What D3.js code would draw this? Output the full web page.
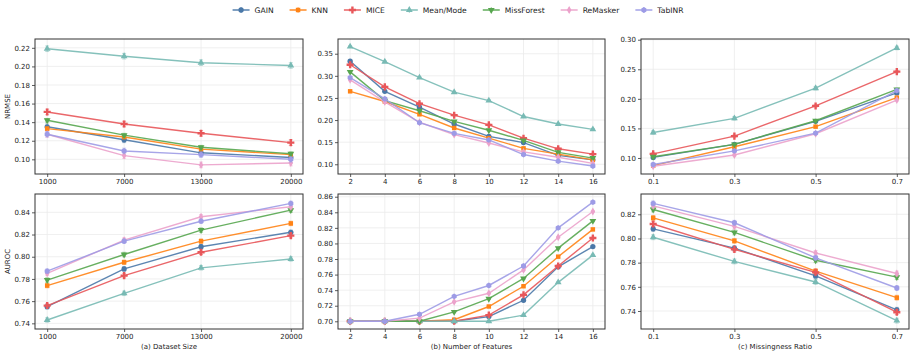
<!DOCTYPE html>
<html>
<head>
<meta charset="utf-8">
<script src="https://cdn.jsdelivr.net/npm/d3@7"></script>
<style>
  body { margin: 0; background: #fff; }
  svg { font-family: "DejaVu Sans", sans-serif; }
</style>
</head>
<body>
<div id="chart"></div>
<script>
const W = 914, H = 356;

// methods, in legend / draw order
const methods = ['GAIN', 'KNN', 'MICE', 'Mean/Mode', 'MissForest', 'ReMasker', 'TabINR'];
const colors = ['#4a78a8', '#ff8316', '#e8575a', '#78bab4', '#57a64f', '#eba2cb', '#9d9be6'];
const shapes = ['circle', 'square', 'plus', 'triangle', 'triangleDown', 'diamond', 'hexagon'];

// x values
const sizeTicks = [1000, 7000, 13000, 20000];
const featTicks = [2, 4, 6, 8, 10, 12, 14, 16];
const ratioTicks = [0.1, 0.3, 0.5, 0.7];

// (a) dataset size, rows follow methods order
const sizeNrmse = [
  [0.135, 0.121, 0.107, 0.102],
  [0.133, 0.124, 0.111, 0.105],
  [0.151, 0.138, 0.128, 0.118],
  [0.219, 0.211, 0.204, 0.201],
  [0.142, 0.126, 0.113, 0.106],
  [0.127, 0.104, 0.094, 0.096],
  [0.127, 0.109, 0.105, 0.100]
];
const sizeNrmseErr = [0.003, 0.002, 0.003, 0.003, 0.002, 0.003, 0.003];
const sizeAuroc = [
  [0.755, 0.789, 0.809, 0.822],
  [0.774, 0.795, 0.814, 0.830],
  [0.756, 0.783, 0.804, 0.819],
  [0.743, 0.767, 0.790, 0.798],
  [0.779, 0.802, 0.824, 0.842],
  [0.785, 0.815, 0.836, 0.845],
  [0.787, 0.814, 0.832, 0.848]
];
const sizeAurocErr = [0.002, 0.002, 0.002, 0.002, 0.002, 0.002, 0.002];

// (b) number of features
const featNrmse = [
  [0.333, 0.265, 0.229, 0.191, 0.163, 0.149, 0.120, 0.110],
  [0.265, 0.242, 0.213, 0.182, 0.159, 0.136, 0.123, 0.110],
  [0.325, 0.275, 0.237, 0.211, 0.189, 0.159, 0.135, 0.123],
  [0.366, 0.332, 0.296, 0.263, 0.244, 0.208, 0.191, 0.179],
  [0.309, 0.244, 0.221, 0.197, 0.177, 0.154, 0.127, 0.114],
  [0.291, 0.241, 0.195, 0.167, 0.148, 0.128, 0.116, 0.102],
  [0.296, 0.248, 0.194, 0.170, 0.155, 0.122, 0.107, 0.096]
];
const featNrmseErr = [0.002, 0.002, 0.002, 0.002, 0.002, 0.002, 0.002];
const featAuroc = [
  [0.700, 0.700, 0.700, 0.700, 0.706, 0.727, 0.770, 0.796],
  [0.700, 0.700, 0.700, 0.702, 0.719, 0.745, 0.783, 0.818],
  [0.700, 0.700, 0.700, 0.700, 0.708, 0.734, 0.771, 0.807],
  [0.700, 0.700, 0.700, 0.700, 0.700, 0.708, 0.750, 0.785],
  [0.700, 0.700, 0.700, 0.712, 0.729, 0.755, 0.794, 0.829],
  [0.700, 0.700, 0.704, 0.725, 0.736, 0.766, 0.808, 0.841],
  [0.700, 0.700, 0.709, 0.732, 0.746, 0.771, 0.820, 0.853]
];
const featAurocErr = [0.001, 0.001, 0.001, 0.001, 0.001, 0.001, 0.001];

// (c) missingness ratio
const ratioNrmse = [
  [0.101, 0.123, 0.162, 0.210],
  [0.087, 0.119, 0.153, 0.202],
  [0.107, 0.137, 0.188, 0.246],
  [0.143, 0.167, 0.218, 0.286],
  [0.102, 0.123, 0.163, 0.216],
  [0.086, 0.105, 0.141, 0.198],
  [0.089, 0.112, 0.142, 0.214]
];
const ratioNrmseErr = [0.002, 0.002, 0.002, 0.003, 0.002, 0.002, 0.002];
const ratioAuroc = [
  [0.808, 0.792, 0.769, 0.741],
  [0.817, 0.798, 0.773, 0.751],
  [0.812, 0.791, 0.772, 0.739],
  [0.801, 0.781, 0.764, 0.732],
  [0.824, 0.805, 0.782, 0.768],
  [0.827, 0.810, 0.788, 0.771],
  [0.829, 0.813, 0.784, 0.759]
];
const ratioAurocErr = [0.002, 0.002, 0.002, 0.002, 0.002, 0.002, 0.002];

const svg = d3.select('#chart').append('svg')
  .attr('width', W).attr('height', H);

// panel frames (pixels)
const cols = [[35, 303], [338, 605], [641, 909]];
const rows = [[39, 174], [194, 329]];

// a hexagon symbol for TabINR
const symbolHexagon = {
  draw(ctx, size) {
    const r = Math.sqrt(size / (1.5 * Math.sqrt(3)));
    for (let i = 0; i < 6; i++) {
      const a = Math.PI / 3 * i + Math.PI / 6;
      const x = r * Math.cos(a), y = r * Math.sin(a);
      if (i === 0) ctx.moveTo(x, y); else ctx.lineTo(x, y);
    }
    ctx.closePath();
  }
};
const symbolTypes = {
  circle: d3.symbolCircle, square: d3.symbolSquare, plus: d3.symbolCross,
  triangle: d3.symbolTriangle, triangleDown: d3.symbolTriangle,
  diamond: d3.symbolDiamond, hexagon: symbolHexagon
};
const symbolSize = { circle: 22, square: 20, plus: 28, triangle: 20, triangleDown: 20, diamond: 18, hexagon: 22 };

function marker(g, shape, color, x, y) {
  g.append('path')
    .attr('d', d3.symbol().type(symbolTypes[shape]).size(symbolSize[shape])())
    .attr('transform', `translate(${x},${y})` + (shape === 'triangleDown' ? ' rotate(180)' : ''))
    .attr('fill', color);
}

function drawPanel(col, row, xVals, xDomain, xFmt, yDomain, yTicks, data, err, yLabel, title) {
  const [x0, x1] = cols[col];
  const [y0, y1] = rows[row];
  const x = d3.scaleLinear().domain(xDomain).range([x0, x1]);
  const y = d3.scaleLinear().domain(yDomain).range([y1, y0]);
  const g = svg.append('g');

  // grid
  g.append('g').selectAll('line').data(xVals).join('line')
    .attr('x1', d => x(d)).attr('x2', d => x(d))
    .attr('y1', y0).attr('y2', y1)
    .attr('stroke', '#ebebeb').attr('stroke-width', 0.8);
  g.append('g').selectAll('line').data(yTicks).join('line')
    .attr('x1', x0).attr('x2', x1)
    .attr('y1', d => y(d)).attr('y2', d => y(d))
    .attr('stroke', '#ebebeb').attr('stroke-width', 0.8);

  // axes
  const xAxis = g.append('g').attr('transform', `translate(0,${y1})`)
    .call(d3.axisBottom(x).tickValues(xVals).tickFormat(xFmt).tickSize(3).tickPadding(2));
  const yAxis = g.append('g').attr('transform', `translate(${x0},0)`)
    .call(d3.axisLeft(y).tickValues(yTicks).tickFormat(d3.format('.2f')).tickSize(3).tickPadding(2));
  [xAxis, yAxis].forEach(a => {
    a.select('.domain').remove();
    a.selectAll('.tick line').attr('stroke', '#333').attr('stroke-width', 0.8);
    a.selectAll('.tick text').attr('fill', '#222').style('font-size', '7px')
      .style('font-family', '"DejaVu Sans", sans-serif');
  });

  // series
  const line = d3.line().x((d, i) => x(xVals[i])).y(d => y(d));
  data.forEach((vals, k) => {
    const s = g.append('g');
    const c = colors[k];
    s.append('path').datum(vals).attr('d', line)
      .attr('fill', 'none').attr('stroke', c).attr('stroke-width', 1.4)
      .attr('stroke-opacity', 0.9);
    vals.forEach((v, i) => {
      const px = x(xVals[i]);
      const e = err[k];
      s.append('line').attr('x1', px).attr('x2', px)
        .attr('y1', y(v - e)).attr('y2', y(v + e))
        .attr('stroke', c).attr('stroke-width', 1).attr('stroke-opacity', 0.6);
      [v - e, v + e].forEach(ev => {
        s.append('line').attr('x1', px - 2).attr('x2', px + 2)
          .attr('y1', y(ev)).attr('y2', y(ev))
          .attr('stroke', c).attr('stroke-width', 0.8).attr('stroke-opacity', 0.6);
      });
      marker(s, shapes[k], c, px, y(v));
    });
  });

  // frame
  g.append('rect').attr('x', x0).attr('y', y0)
    .attr('width', x1 - x0).attr('height', y1 - y0)
    .attr('fill', 'none').attr('stroke', '#333').attr('stroke-width', 1);

  if (yLabel) {
    g.append('text')
      .attr('transform', `translate(10,${(y0 + y1) / 2}) rotate(-90)`)
      .attr('text-anchor', 'middle')
      .style('font-size', '7px').attr('fill', '#222')
      .text(yLabel);
  }
  if (title) {
    g.append('text')
      .attr('x', (x0 + x1) / 2).attr('y', y1 + 20)
      .attr('text-anchor', 'middle')
      .style('font-size', '7px').attr('fill', '#222')
      .text(title);
  }
}

const intFmt = d3.format('d');
const ratioFmt = d3.format('.1f');

drawPanel(0, 0, sizeTicks, [50, 20950], intFmt, [0.0842, 0.2295],
  [0.10, 0.12, 0.14, 0.16, 0.18, 0.20, 0.22], sizeNrmse, sizeNrmseErr, 'NRMSE', null);
drawPanel(1, 0, featTicks, [1.3, 16.7], intFmt, [0.078, 0.3833],
  [0.10, 0.15, 0.20, 0.25, 0.30, 0.35], featNrmse, featNrmseErr, null, null);
drawPanel(2, 0, ratioTicks, [0.07, 0.73], ratioFmt, [0.0729, 0.3012],
  [0.10, 0.15, 0.20, 0.25, 0.30], ratioNrmse, ratioNrmseErr, null, null);

drawPanel(0, 1, sizeTicks, [50, 20950], intFmt, [0.7349, 0.8565],
  [0.74, 0.76, 0.78, 0.80, 0.82, 0.84], sizeAuroc, sizeAurocErr, 'AUROC', '(a) Dataset Size');
drawPanel(1, 1, featTicks, [1.3, 16.7], intFmt, [0.6901, 0.8635],
  [0.70, 0.72, 0.74, 0.76, 0.78, 0.80, 0.82, 0.84, 0.86], featAuroc, featAurocErr, null, '(b) Number of Features');
drawPanel(2, 1, ratioTicks, [0.07, 0.73], ratioFmt, [0.7251, 0.8368],
  [0.74, 0.76, 0.78, 0.80, 0.82], ratioAuroc, ratioAurocErr, null, '(c) Missingness Ratio');

// legend, centred over the figure
const legend = svg.append('g');
const items = methods.map((m, k) => {
  const it = legend.append('g');
  it.append('line').attr('x1', 0).attr('x2', 17).attr('y1', 0).attr('y2', 0)
    .attr('stroke', colors[k]).attr('stroke-width', 1.4);
  it.append('line').attr('x1', 8.5).attr('x2', 8.5).attr('y1', -3).attr('y2', 3)
    .attr('stroke', colors[k]).attr('stroke-width', 1).attr('stroke-opacity', 0.6);
  marker(it, shapes[k], colors[k], 8.5, 0);
  const t = it.append('text').attr('x', 22).attr('y', 2.8)
    .style('font-size', '7.6px').attr('fill', '#222').text(m);
  return { it, w: 22 + t.node().getComputedTextLength() };
});
const gap = 16;
const total = d3.sum(items, d => d.w) + gap * (items.length - 1);
let cx = W / 2 - total / 2 + 1;
items.forEach(d => {
  d.it.attr('transform', `translate(${cx},10)`);
  cx += d.w + gap;
});
</script>
</body>
</html>
